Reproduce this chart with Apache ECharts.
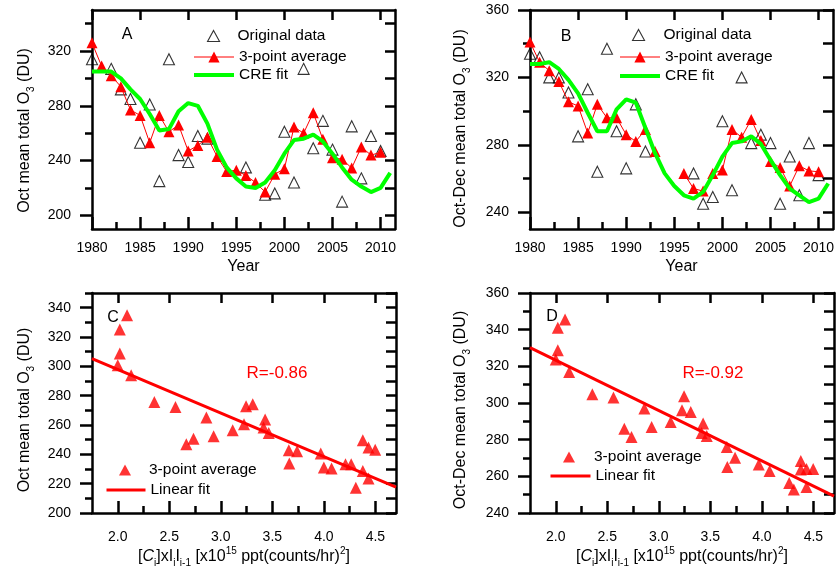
<!DOCTYPE html>
<html><head><meta charset="utf-8">
<script src="https://cdn.jsdelivr.net/npm/echarts@6/dist/echarts.min.js"></script>
<style>html,body{margin:0;padding:0;background:#fff}#c{width:838px;height:576px}</style>
</head><body><div id="c"></div>
<script>
// ---------------- DATA ----------------
const years = [1980,1981,1982,1983,1984,1985,1986,1987,1988,1989,1990,1991,1992,1993,1994,1995,1996,1997,1998,1999,2000,2001,2002,2003,2004,2005,2006,2007,2008,2009,2010,2011];
// Panel A: October mean total O3 (DU)
const octOriginal = [314,null,307,292,285,253,281,225,314,244,239,258,256,null,null,null,235,null,215,216,261,224,307,249,269,248,210,265,227,258,247,null];
const octAvg3 = [326,309,302,294,277,273,253,273,261,266,247,251,257,243,232,233,229,224,217,230,234,264.5,260,275,255.5,242,241,234.5,250,244,246,null];
const octCre = [305,305,305,300,292,285,274,262,263,276,282,280,267,248,235,227,221,220,224,233,245,255,256,259,254,245,235,226,221,217,220,231];
// Panel B: Oct-Dec mean total O3 (DU)
const decOriginal = [334,332,320,320,311,285,313,264,337,288,266,304,276,null,null,null,null,263,245,249,294,253,320,281,286,281,245,273,250,281,262,null];
const decAvg3 = [341,329,324,317.5,305.5,303,287,304,296,296,286,282,289,276,null,null,263,254,252.5,263,265,289,284.5,295,282.5,270,266.5,255.5,267.5,264.5,264,null];
const decCre = [328,328,329,325,318.5,310.5,299,288,288,301,307,305,290,275,263,255.5,250,248,252,262,273,281,282,285,280.5,271,262,254,250,246,248,257];
// Panels C and D: x = [C]i x Ii Ii-1 (x10^15 ppt (counts/hr)^2)
const cxi = [2.00,2.02,2.02,2.09,2.13,2.355,2.56,2.665,2.735,2.86,2.93,3.115,3.225,3.245,3.31,3.415,3.43,3.465,3.66,3.665,3.74,3.97,4.00,4.075,4.21,4.265,4.31,4.378,4.378,4.433,4.433,4.498];
const octVsX = [300.7,325.1,308.7,334.9,293.9,275.7,272.3,246.9,250.7,265.1,252.3,256.4,260.5,272.8,274.1,258.3,263.7,254.6,242.8,233.7,242.1,240.5,231.0,230.3,233.2,233.2,217.3,249.6,228.6,244.6,223.5,243.2];
const decVsX = [323.7,341.1,328.8,345.5,316.9,304.8,303.0,286.0,281.5,297.0,286.9,289.6,296.0,303.7,295.1,283.6,288.8,282.0,276.0,265.1,270.2,266.4,null,262.9,null,256.3,252.8,268.4,263.7,264,254.2,264];
const octFit = [[1.75,305.3],[4.7,217.7]];
const decFit = [[1.75,330.2],[4.7,249.2]];
const octR = 'R=-0.86';
const decR = 'R=-0.92';
// tick values
const yearTicks = [1980,1985,1990,1995,2000,2005,2010];
const yearMinor = [1982.5,1987.5,1992.5,1997.5,2002.5,2007.5];
const aYTicks = [200,240,280,320];
const aYMinor = [220,260,300,340];
const bYTicks = [240,280,320,360];
const bYMinor = [260,300,340];
const cdXTicks = [2.0,2.5,3.0,3.5,4.0,4.5];
const cdXMinor = [2.25,2.75,3.25,3.75,4.25];
const cYTicks = [200,220,240,260,280,300,320,340];
const cYMinor = [210,230,250,270,290,310,330,350];
const dYTicks = [240,260,280,300,320,340,360];
const dYMinor = [250,270,290,310,330,350];

// ---------------- CHART ----------------
const FONT = '"Liberation Sans", Arial, Helvetica, sans-serif';
const BLACK = '#000';
const RED = '#ff0000';
const GREEN = '#00ff00';

const grids = [
  {left: 92, top: 10, width: 303, height: 219},
  {left: 530, top: 10, width: 303, height: 219},
  {left: 92, top: 293, width: 304, height: 220},
  {left: 530, top: 293, width: 304, height: 220}
].map(g => Object.assign({outerBoundsMode: 'none', containLabel: false}, g));

const subRich = {
  a: {fontSize: 16, fontFamily: FONT, color: BLACK, lineHeight: 22},
  i: {fontSize: 16, fontFamily: FONT, color: BLACK, lineHeight: 22, fontStyle: 'italic'},
  s: {fontSize: 10, fontFamily: FONT, color: BLACK, lineHeight: 10, verticalAlign: 'bottom'},
  p: {fontSize: 10, fontFamily: FONT, color: BLACK, lineHeight: 10, verticalAlign: 'top'}
};

function base(gi, rng) {
  return {gridIndex: gi, type: 'value', min: rng[0], max: rng[1], scale: true,
    splitLine: {show: false}, minorTick: {show: false}, minorSplitLine: {show: false},
    axisPointer: {show: false}};
}
const axisLineStyle = {color: BLACK, width: 2.5};
const tickLine = {color: BLACK, width: 2.5};

function xAxes(gi, rng, major, minor, fmt, labelMargin, name, nameGap) {
  return [
    Object.assign(base(gi, rng), {position: 'bottom',
      axisLine: {show: true, onZero: false, lineStyle: axisLineStyle},
      axisTick: {show: true, inside: true, length: 12, lineStyle: tickLine, customValues: major},
      axisLabel: {show: true, customValues: major, margin: labelMargin, fontSize: 14, color: BLACK, fontFamily: FONT, formatter: fmt},
      name: name, nameLocation: 'middle', nameGap: nameGap,
      nameTextStyle: {fontSize: 16, fontFamily: FONT, color: BLACK, rich: subRich}}),
    Object.assign(base(gi, rng), {position: 'bottom',
      axisLine: {show: false, onZero: false},
      axisTick: {show: true, inside: true, length: 7, lineStyle: tickLine, customValues: minor},
      axisLabel: {show: false}}),
    Object.assign(base(gi, rng), {position: 'top',
      axisLine: {show: true, onZero: false, lineStyle: axisLineStyle},
      axisTick: {show: true, inside: true, length: 10, lineStyle: tickLine, customValues: major},
      axisLabel: {show: false}})
  ];
}
function yAxes(gi, rng, major, minor, name, nameGap, pad) {
  return [
    Object.assign(base(gi, rng), {position: 'left',
      axisLine: {show: true, onZero: false, lineStyle: axisLineStyle},
      axisTick: {show: true, inside: false, length: 12, lineStyle: tickLine, customValues: major},
      axisLabel: {show: true, customValues: major, margin: 21, fontSize: 14, color: BLACK, fontFamily: FONT},
      name: name, nameLocation: 'middle', nameGap: nameGap, nameRotate: 90,
      nameTextStyle: {fontSize: 16, fontFamily: FONT, color: BLACK, rich: subRich, padding: pad}}),
    Object.assign(base(gi, rng), {position: 'left',
      axisLine: {show: false, onZero: false},
      axisTick: {show: true, inside: false, length: 7, lineStyle: tickLine, customValues: minor},
      axisLabel: {show: false}}),
    Object.assign(base(gi, rng), {position: 'right',
      axisLine: {show: true, onZero: false, lineStyle: axisLineStyle},
      axisTick: {show: true, inside: true, length: 10, lineStyle: tickLine, customValues: major.concat(minor)},
      axisLabel: {show: false}})
  ];
}

const yr = v => String(v);
const one = v => v.toFixed(1);
const xName = '{a|[}{i|C}{s|i}{a|]xI}{s|i}{a|I}{s|i-1}{a| [x10}{p|15}{a| ppt(counts/hr)}{p|2}{a|]}';

const xAxis = [].concat(
  xAxes(0, [1980, 2011.5], yearTicks, yearMinor, yr, 12, 'Year', 30),
  xAxes(1, [1980, 2011.5], yearTicks, yearMinor, yr, 12, 'Year', 30),
  xAxes(2, [1.75, 4.7], cdXTicks, cdXMinor, one, 17, xName, 33),
  xAxes(3, [1.75, 4.7], cdXTicks, cdXMinor, one, 17, xName, 33)
);
const yAxis = [].concat(
  yAxes(0, [190, 350], aYTicks, aYMinor, '{a|Oct mean total O}{s|3}{a| (DU)}', 56, [0, 22, 0, 0]),
  yAxes(1, [230, 360], bYTicks, bYMinor, '{a|Oct-Dec mean total O}{s|3}{a| (DU)}', 58, [0, 18, 0, 0]),
  yAxes(2, [200, 350], cYTicks, cYMinor, '{a|Oct mean total O}{s|3}{a| (DU)}', 56, [0, 14, 0, 0]),
  yAxes(3, [240, 360], dYTicks, dYMinor, '{a|Oct-Dec mean total O}{s|3}{a| (DU)}', 58, [0, 14, 0, 0])
);

const pair = (xs, ys) => xs.map((x, i) => [x, ys[i]]);

function timePanel(gi, orig, avg, cre) {
  const xi = gi * 3, yi = gi * 3;
  return [
    {name: 'Original data', type: 'scatter', xAxisIndex: xi, yAxisIndex: yi,
      data: pair(years, orig), symbol: 'triangle', symbolSize: 11,
      itemStyle: {color: 'rgba(0,0,0,0)', borderColor: BLACK, borderWidth: 1.1}, z: 2},
    {name: '3-point average', type: 'line', xAxisIndex: xi, yAxisIndex: yi,
      data: pair(years, avg), symbol: 'triangle', symbolSize: 11, showAllSymbol: true,
      connectNulls: false, lineStyle: {color: RED, width: 1},
      itemStyle: {color: RED, borderWidth: 0}, z: 3},
    {name: 'CRE fit', type: 'line', xAxisIndex: xi, yAxisIndex: yi,
      data: pair(years, cre), symbol: 'none', smooth: false,
      lineStyle: {color: GREEN, width: 4}, itemStyle: {color: GREEN}, z: 4}
  ];
}
function fitPanel(gi, ys, fit) {
  const xi = gi * 3, yi = gi * 3;
  return [
    {name: '3-point average ', type: 'scatter', xAxisIndex: xi, yAxisIndex: yi,
      data: pair(cxi, ys), symbol: 'triangle', symbolSize: 12,
      itemStyle: {color: RED, borderWidth: 0}, z: 3},
    {name: 'Linear fit', type: 'line', xAxisIndex: xi, yAxisIndex: yi,
      data: fit, symbol: 'none', lineStyle: {color: RED, width: 3},
      itemStyle: {color: RED}, z: 2}
  ];
}

const series = [].concat(
  timePanel(0, octOriginal, octAvg3, octCre),
  timePanel(1, decOriginal, decAvg3, decCre),
  fitPanel(2, octVsX, octFit),
  fitPanel(3, decVsX, decFit)
);

const legText = {fontSize: 15.5, fontFamily: FONT, color: BLACK};
function leg(left, top, data, iw, ih, gap, textPadLeft) {
  return {left: left, top: top, orient: 'vertical', padding: 0, itemGap: gap,
    itemWidth: iw, itemHeight: ih, selectedMode: false,
    textStyle: Object.assign({padding: [0, 0, 0, textPadLeft]}, legText),
    formatter: n => n.trim(), data: data};
}
const legend = [
  leg(207, 28, [{name: 'Original data', itemStyle: {borderWidth: 1.1}}], 12, 11, 2, 13),
  leg(192, 49, [{name: '3-point average', lineStyle: {width: 1}},
                {name: 'CRE fit', lineStyle: {width: 4}, itemStyle: {opacity: 0}}], 40, 14, 2, 0),
  leg(632, 27, [{name: 'Original data', itemStyle: {borderWidth: 1.1}}], 12, 11, 2, 14),
  leg(618, 49, [{name: '3-point average', lineStyle: {width: 1}},
                {name: 'CRE fit', lineStyle: {width: 4}, itemStyle: {opacity: 0}}], 40, 14, 3, 0),
  leg(119, 462, [{name: '3-point average '}], 12, 11, 2, 13),
  leg(105, 482, [{name: 'Linear fit', lineStyle: {width: 3}, itemStyle: {opacity: 0}}], 39, 14, 2, 0),
  leg(563, 449, [{name: '3-point average '}], 12, 11, 2, 14),
  leg(549, 468, [{name: 'Linear fit', lineStyle: {width: 3}, itemStyle: {opacity: 0}}], 40, 14, 2, 0)
];

function label(txt, x, y, color, size) {
  return {type: 'text', x: x, y: y, z: 10, silent: true,
    style: {text: txt, fill: color, fontSize: size, fontFamily: FONT, align: 'center', verticalAlign: 'middle'}};
}
const graphic = [
  label('A', 127, 35, BLACK, 16),
  label('B', 566, 37, BLACK, 16),
  label('C', 113, 318, BLACK, 16),
  label('D', 552, 317, BLACK, 16),
  label(octR, 277, 373, RED, 17),
  label(decR, 713, 373, RED, 17)
];

const chart = echarts.init(document.getElementById('c'), null, {renderer: 'canvas'});
chart.setOption({
  animation: false,
  backgroundColor: '#fff',
  grid: grids,
  xAxis: xAxis,
  yAxis: yAxis,
  legend: legend,
  graphic: graphic,
  series: series
});
</script>
</body></html>
